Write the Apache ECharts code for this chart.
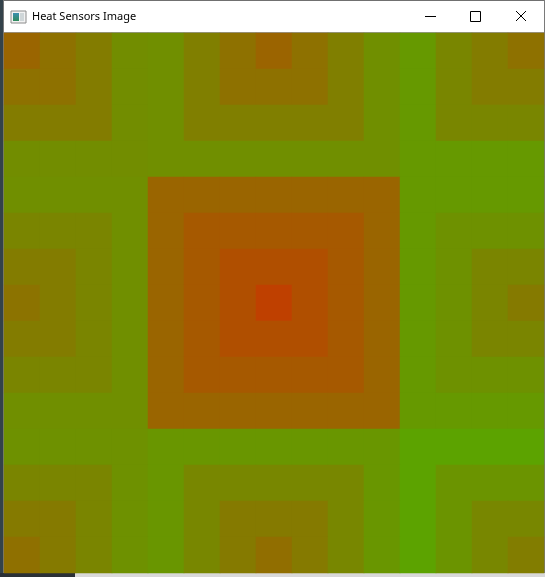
<!DOCTYPE html>
<html>
<head>
<meta charset="utf-8">
<title>Heat Sensors Image</title>
<script src="https://cdn.jsdelivr.net/npm/echarts@6/dist/echarts.min.js"></script>
<style>
html,body{margin:0;padding:0;background:#33424a;overflow:hidden}
#chart{width:545px;height:577px}
</style>
</head>
<body>
<div id="chart"></div>
<script>
// ---- data (sensor readings on a 0..255 scale, green = low, red = high) ----
const windowTitle = 'Heat Sensors Image';
const colLabels = ['0','1','2','3','4','5','6','7','8','9','10','11','12','13','14'];
const rowLabels = ['0','1','2','3','4','5','6','7','8','9','10','11','12','13','14'];

const row0  = [154,142,131,114,112,128,142,155,142,128,112,102,121,131,142];
const row1  = [142,142,131,114,112,128,142,142,142,128,112,102,121,131,131];
const row2  = [131,131,131,114,112,128,128,128,128,128,112,102,121,121,121];
const row3  = [114,114,114,114,112,112,112,112,112,112,112,102,102,102,102];
const row4  = [112,112,112,112,154,154,154,154,154,154,154,102,102,102,102];
const row5  = [122,122,122,112,154,166,166,166,166,166,154,102,110,110,110];
const row6  = [131,131,122,112,154,166,176,176,176,166,154,102,110,122,122];
const row7  = [140,131,122,112,154,166,176,191,176,166,154,102,110,122,133];
const row8  = [131,131,122,112,154,166,176,176,176,166,154,102,110,122,122];
const row9  = [122,122,122,112,154,166,166,166,166,166,154,102,110,110,110];
const row10 = [112,112,112,112,154,154,154,154,154,154,154,102,102,102,102];
const row11 = [110,110,110,110,105,105,105,105,105,105,105, 92, 92, 92, 92];
const row12 = [122,122,122,110,105,120,120,120,120,120,105, 92,107,107,107];
const row13 = [133,133,122,110,105,120,133,133,133,120,105, 92,107,120,120];
const row14 = [143,133,122,110,105,120,133,145,133,120,105, 92,107,120,130];

const scaleMin = 0;
const scaleMax = 255;
const scaleColors = ['#00ff00', '#ff0000'];

// ---- build ----
const readings = [row0,row1,row2,row3,row4,row5,row6,row7,row8,row9,row10,row11,row12,row13,row14];
const cells = [];
readings.forEach((row, r) => row.forEach((v, c) => cells.push([c, r, v])));

const chart = echarts.init(document.getElementById('chart'), null, {renderer: 'canvas'});
chart.setOption({
  animation: false,
  backgroundColor: 'transparent',
  grid: {left: 4, top: 33, width: 540, height: 540},
  xAxis: {type: 'category', data: colLabels, show: false, splitArea: {show: false}},
  yAxis: {type: 'category', data: rowLabels, inverse: true, show: false, splitArea: {show: false}},
  visualMap: {
    show: false, type: 'continuous', min: scaleMin, max: scaleMax,
    dimension: 2, inRange: {color: scaleColors}
  },
  series: [{
    type: 'heatmap',
    data: cells,
    itemStyle: {borderWidth: 0},
    emphasis: {disabled: true},
    progressive: 0
  }],
  graphic: [
    // window frame
    {type: 'rect', shape: {x: 3, y: 0, width: 542, height: 33}, style: {fill: '#ffffff'}, silent: true},
    {type: 'rect', shape: {x: 3, y: 0, width: 542, height: 1}, style: {fill: '#707070'}, silent: true},
    {type: 'rect', shape: {x: 3, y: 32, width: 542, height: 1}, style: {fill: '#9a9a9a'}, silent: true},
    {type: 'rect', shape: {x: 3, y: 0, width: 1, height: 574}, style: {fill: '#7a7a7a'}, silent: true},
    {type: 'rect', shape: {x: 544, y: 0, width: 1, height: 574}, style: {fill: '#7a7a7a'}, silent: true},
    {type: 'rect', shape: {x: 0, y: 573, width: 545, height: 4}, style: {fill: '#d9d9d9'}, silent: true},
    {type: 'rect', shape: {x: 0, y: 573, width: 75, height: 4}, style: {fill: '#2a3036'}, silent: true},
    // icon
    {type: 'rect', shape: {x: 11, y: 11, width: 15, height: 12}, style: {fill: '#f2f2f2', stroke: '#8c8c8c', lineWidth: 1}, silent: true},
    {type: 'rect', shape: {x: 13, y: 13, width: 6, height: 8},
      style: {fill: new echarts.graphic.LinearGradient(0, 0, 0, 1, [{offset: 0, color: '#3b8fb0'}, {offset: 1, color: '#2f8a5a'}])}, silent: true},
    {type: 'rect', shape: {x: 20, y: 13, width: 4, height: 8}, style: {fill: '#cfd6d8'}, silent: true},
    // title
    {type: 'text', style: {x: 32, y: 17, text: windowTitle, fill: '#000000', font: '11px "Noto Sans", sans-serif', verticalAlign: 'middle', align: 'left'}, silent: true},
    // minimize
    {type: 'rect', shape: {x: 425, y: 16, width: 11, height: 1}, style: {fill: '#000000'}, silent: true},
    // maximize
    {type: 'rect', shape: {x: 470.5, y: 11.5, width: 10, height: 10}, style: {fill: 'none', stroke: '#000000', lineWidth: 1}, silent: true},
    // close
    {type: 'line', shape: {x1: 516, y1: 11, x2: 526, y2: 21}, style: {stroke: '#000000', lineWidth: 1}, silent: true},
    {type: 'line', shape: {x1: 526, y1: 11, x2: 516, y2: 21}, style: {stroke: '#000000', lineWidth: 1}, silent: true}
  ]
});
</script>
</body>
</html>
